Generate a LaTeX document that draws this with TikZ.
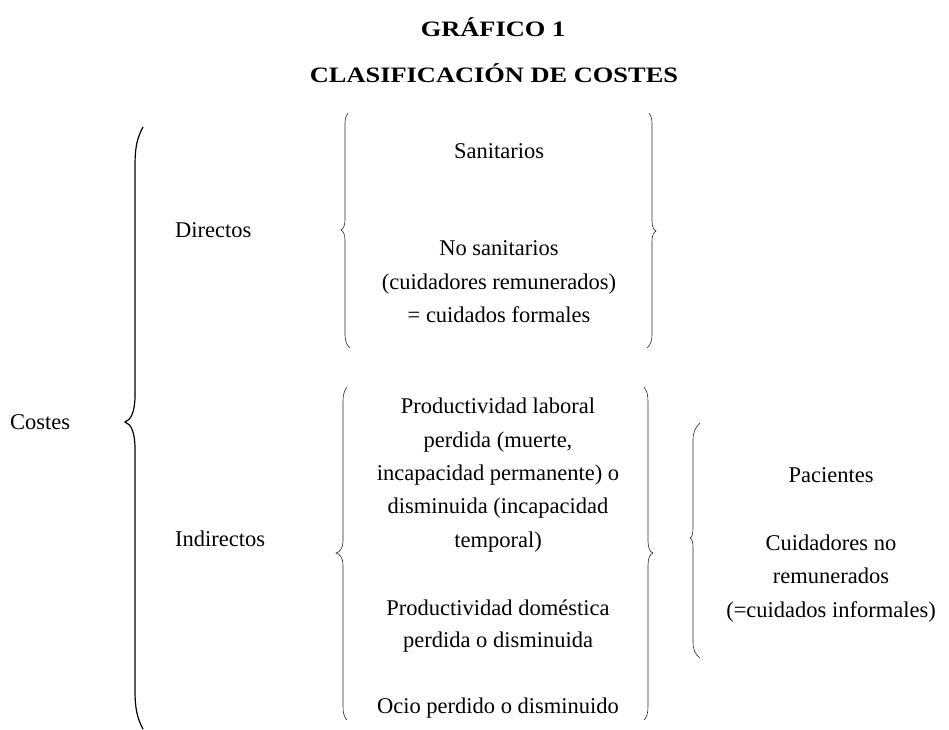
\documentclass[tikz,border=0pt]{standalone}
\usepackage{fontspec}
\setmainfont{Liberation Serif}
\newfontfamily\titlefont[FakeStretch=1.2]{Liberation Serif Bold}
\begin{document}
\begin{tikzpicture}[x=1pt,y=-1pt,
  txt/.style={font=\fontsize{22.5}{33.5}\selectfont, anchor=base, inner sep=0pt},
  ttl/.style={font=\titlefont\fontsize{22}{26}\selectfont, anchor=base, inner sep=0pt},
  bigbrace/.style={line width=1.2pt, black},
  smallbrace/.style={line width=0.6pt, black!85}]
\useasboundingbox (0,0) rectangle (949,729);

% titles
\node[ttl] (t1) at (493,36) {GRÁFICO 1};
\node[ttl] (t2) at (494,82) {CLASIFICACIÓN DE COSTES};

% left labels
\node[txt, anchor=base west] (costes) at (10,429) {Costes};
\node[txt, anchor=base west] (dir) at (175,237) {Directos};
\node[txt, anchor=base west] (ind) at (175,546) {Indirectos};

% directos block
\node[txt] (d1) at (499,158) {Sanitarios};
\node[txt] (d2) at (499,255) {No sanitarios};
\node[txt] (d3) at (499,289) {(cuidadores remunerados)};
\node[txt] (d4) at (499,322) {= cuidados formales};

% indirectos block
\node[txt] (i1) at (498,413) {Productividad laboral};
\node[txt] (i2) at (498,447) {perdida (muerte,};
\node[txt] (i3) at (498,480) {incapacidad permanente) o};
\node[txt] (i4) at (498,513) {disminuida (incapacidad};
\node[txt] (i5) at (498,547) {temporal)};
\node[txt] (i6) at (498,615) {Productividad doméstica};
\node[txt] (i7) at (498,647) {perdida o disminuida};
\node[txt] (i8) at (498,713) {Ocio perdido o disminuido};

% right block
\node[txt] (r1) at (831,482) {Pacientes};
\node[txt] (r2) at (831,550) {Cuidadores no};
\node[txt] (r3) at (831,583) {remunerados};
\node[txt] (r4) at (831,617) {(=cuidados informales)};

% big brace
\draw[bigbrace] (143,127) .. controls (136,140) and (135,150) .. (135,168)
  -- (135,395) .. controls (135,412) and (131,420) .. (125,422)
  .. controls (131,424) and (135,432) .. (135,449)
  -- (135,690) .. controls (135,708) and (137,718) .. (143,729);

% directos braces
\draw[smallbrace] (348,113) .. controls (345,117) and (345,120) .. (345,127)
  -- (345,220) .. controls (345,226) and (343,229) .. (341,230)
  .. controls (343,231) and (345,234) .. (345,240)
  -- (345,335) .. controls (345,342) and (347,345) .. (350,348);
\draw[smallbrace] (649,113) .. controls (652,117) and (652,120) .. (652,127)
  -- (652,221) .. controls (652,227) and (654,230) .. (656,231)
  .. controls (654,232) and (652,235) .. (652,241)
  -- (652,335) .. controls (652,342) and (650,345) .. (647,348);

% indirectos braces
\draw[smallbrace] (347,387) .. controls (344,391) and (343,395) .. (343,402)
  -- (343,541) .. controls (343,548) and (340,552) .. (336,553)
  .. controls (340,554) and (343,558) .. (343,565)
  -- (343,706) .. controls (343,713) and (344,717) .. (347,720);
\draw[smallbrace] (644,387) .. controls (647,391) and (648,395) .. (648,402)
  -- (648,541) .. controls (648,548) and (650,552) .. (653,553)
  .. controls (650,554) and (648,558) .. (648,565)
  -- (648,706) .. controls (648,713) and (647,717) .. (644,720);

% right brace
\draw[smallbrace] (700,423) .. controls (695,428) and (693,432) .. (693,440)
  -- (693,528) .. controls (693,534) and (692,537) .. (690,538)
  .. controls (692,539) and (693,542) .. (693,548)
  -- (693,642) .. controls (693,650) and (695,654) .. (700,658);
\end{tikzpicture}
\end{document}
